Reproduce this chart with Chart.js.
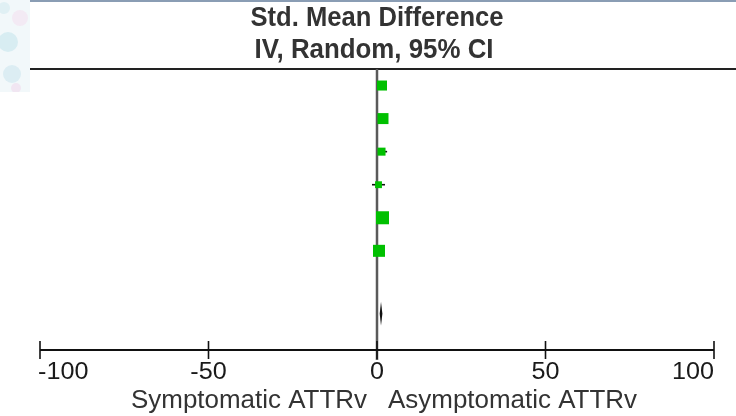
<!DOCTYPE html>
<html>
<head>
<meta charset="utf-8">
<script src="https://cdn.jsdelivr.net/npm/chart.js@4/dist/chart.umd.min.js"></script>
<style>
  html, body { margin: 0; padding: 0; background: #fff; }
  #wrap { width: 736px; height: 416px; position: relative; }
</style>
</head>
<body>
<div id="wrap"><canvas id="forest" width="736" height="416" style="width:736px;height:416px"></canvas></div>
<script>
// rows of the forest plot (top to bottom)
const studyRows = [1, 2, 3, 4, 5, 6]
const smd     = [1.48, 1.78, 1.34, 0.45, 1.63, 0.59]
const ciLow   = [0.6, 0.9, 0.4, -1.48, 0.7, -0.2]
const ciHigh  = [2.4, 2.7, 3.0, 2.37, 2.6, 1.4]
const weights = [12.8, 15.4, 8.2, 6.0, 21.6, 18.4]

const overallRow = 7.9
const overallSmd = 1.19
const overallLow = 0.8
const overallHigh = 1.6

const xTicks = [-100, -50, 0, 50, 100]
const titleLines = ["Std. Mean Difference", "IV, Random, 95% CI"]
const favoursLeft = "Symptomatic ATTRv"
const favoursRight = "Asymptomatic ATTRv"

const FONT = "'Liberation Sans', Arial, sans-serif"
const GREEN = '#00c000'

// text squeezed/stretched to a given width, like the scanned original
function stretchText(ctx, text, x, y, font, width, align) {
    ctx.save()
    ctx.font = font
    ctx.textBaseline = 'middle'
    ctx.textAlign = 'left'
    let natural = ctx.measureText(text).width
    let sx = width / natural
    let left = x
    if (align == 'center') left = x - width / 2
    if (align == 'right') left = x - width
    ctx.translate(left, y)
    ctx.scale(sx, 1)
    ctx.fillText(text, 0, 0)
    ctx.restore()
}

const decor = {
    id: 'decor',
    beforeDraw(chart) {
        const ctx = chart.ctx
        ctx.save()
        ctx.fillStyle = '#ffffff'
        ctx.fillRect(0, 0, chart.width, chart.height)
        // scanned background leftovers in the corner
        ctx.fillStyle = '#f2f8fa'
        ctx.fillRect(0, 0, 30, 92)
        const blobs = [[8, 42, 10, '#d8edf2'], [12, 74, 9, '#dcedf3'], [20, 18, 8, '#f3eaf4'], [16, 88, 5, '#f1e6f2'], [4, 8, 6, '#e0f0f4']]
        blobs.forEach(b => {
            ctx.fillStyle = b[3]
            ctx.beginPath()
            ctx.arc(b[0], b[1], b[2], 0, Math.PI * 2)
            ctx.fill()
        })
        ctx.fillStyle = '#ffffff'
        ctx.fillRect(0, 92, 30, 10)
        ctx.fillStyle = '#8a9db4'
        ctx.fillRect(30, 0, chart.width - 30, 2)
        ctx.restore()
    },
    beforeDatasetsDraw(chart) {
        const ctx = chart.ctx
        const xs = chart.scales.x
        const ys = chart.scales.y
        const area = chart.chartArea
        ctx.save()
        // header rule
        ctx.strokeStyle = '#222'
        ctx.lineWidth = 2
        ctx.beginPath()
        ctx.moveTo(30, area.top)
        ctx.lineTo(chart.width, area.top)
        ctx.stroke()
        // line of no effect
        let x0 = xs.getPixelForValue(0)
        ctx.strokeStyle = '#5a5a5a'
        ctx.lineWidth = 2.5
        ctx.beginPath()
        ctx.moveTo(x0, area.top)
        ctx.lineTo(x0, area.bottom + 10)
        ctx.stroke()
        // confidence intervals
        ctx.strokeStyle = '#111'
        ctx.lineWidth = 1.6
        studyRows.forEach((r, i) => {
            let y = ys.getPixelForValue(r)
            ctx.beginPath()
            ctx.moveTo(xs.getPixelForValue(ciLow[i]), y)
            ctx.lineTo(xs.getPixelForValue(ciHigh[i]), y)
            ctx.stroke()
        })
        // pooled diamond
        let yd = ys.getPixelForValue(overallRow)
        ctx.fillStyle = '#111'
        ctx.beginPath()
        ctx.moveTo(xs.getPixelForValue(overallLow), yd)
        ctx.lineTo(xs.getPixelForValue(overallSmd), yd - 12)
        ctx.lineTo(xs.getPixelForValue(overallHigh), yd)
        ctx.lineTo(xs.getPixelForValue(overallSmd), yd + 12)
        ctx.closePath()
        ctx.fill()
        ctx.restore()
    },
    afterDraw(chart) {
        const ctx = chart.ctx
        const xs = chart.scales.x
        const area = chart.chartArea
        ctx.save()
        // x axis
        let yAxis = area.bottom
        ctx.strokeStyle = '#111'
        ctx.lineWidth = 2
        ctx.beginPath()
        ctx.moveTo(xs.getPixelForValue(xTicks[0]), yAxis)
        ctx.lineTo(xs.getPixelForValue(xTicks[xTicks.length - 1]), yAxis)
        ctx.stroke()
        ctx.lineWidth = 1.6
        xTicks.forEach(t => {
            let px = xs.getPixelForValue(t)
            ctx.beginPath()
            ctx.moveTo(px, yAxis - 9)
            ctx.lineTo(px, yAxis + 9)
            ctx.stroke()
        })
        // tick labels: first left, last right, the rest centred
        ctx.fillStyle = '#1a1a1a'
        xTicks.forEach((t, i) => {
            let px = xs.getPixelForValue(t)
            let txt = String(t)
            ctx.font = '24px ' + FONT
            let w = ctx.measureText(txt).width * 1.05
            let align = 'center'
            if (i == 0) { align = 'left'; px -= 2 }
            if (i == xTicks.length - 1) align = 'right'
            stretchText(ctx, txt, px, yAxis + 22, '24px ' + FONT, w, align)
        })
        // favours labels
        ctx.fillStyle = '#333'
        let x0 = xs.getPixelForValue(0)
        stretchText(ctx, favoursLeft, x0 - 10, 401, '25px ' + FONT, 236, 'right')
        stretchText(ctx, favoursRight, x0 + 11, 401, '25px ' + FONT, 249, 'left')
        // header
        ctx.fillStyle = '#333'
        stretchText(ctx, titleLines[0], x0, 19, 'bold 27px ' + FONT, 253, 'center')
        stretchText(ctx, titleLines[1], x0 - 3, 51, 'bold 27px ' + FONT, 239, 'center')
        ctx.restore()
    }
}

const cvs = document.getElementById('forest')
new Chart(cvs, {
    type: 'scatter',
    data: {
        datasets: [{
            label: 'Std. Mean Difference',
            data: studyRows.map((r, i) => ({ x: smd[i], y: r })),
            pointStyle: 'rect',
            pointRadius: weights.map(w => Math.sqrt(w) * 2.8 / Math.SQRT2),
            pointHoverRadius: weights.map(w => Math.sqrt(w) * 2.8 / Math.SQRT2),
            pointBorderWidth: 0,
            backgroundColor: GREEN,
            borderColor: GREEN
        }]
    },
    options: {
        responsive: false,
        animation: false,
        maintainAspectRatio: false,
        devicePixelRatio: 1,
        layout: { padding: { left: 40, right: 22, top: 69, bottom: 66 } },
        plugins: {
            legend: { display: false },
            tooltip: { enabled: false },
            title: { display: false }
        },
        scales: {
            x: { type: 'linear', min: -100, max: 100, display: false },
            y: { type: 'linear', min: 0.5, max: 9, reverse: true, display: false }
        }
    },
    plugins: [decor]
});
</script>
</body>
</html>
